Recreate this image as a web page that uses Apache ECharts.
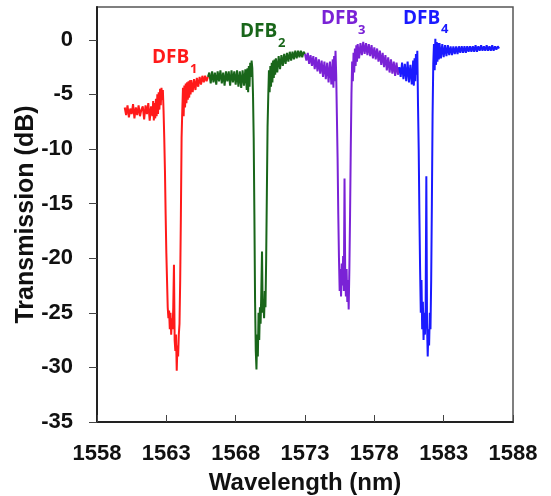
<!DOCTYPE html>
<html>
<head>
<meta charset="utf-8">
<script src="https://cdn.jsdelivr.net/npm/echarts@6/dist/echarts.min.js"></script>
<style>html,body{margin:0;padding:0;background:#fff}#c{width:551px;height:496px}</style>
</head>
<body>
<div id="c"></div>
<script>
// Tick labels
var xTicks = [1558, 1563, 1568, 1573, 1578, 1583, 1588];
var yTicks = [-35, -30, -25, -20, -15, -10, -5, 0];

// DFB1 (red) [wavelength nm, transmission dB]
var dfb1 = [
[1560.0,-6.2],[1560.1,-6.9],[1560.2,-6.0],[1560.3,-7.1],[1560.4,-6.3],[1560.5,-6.8],[1560.6,-5.9],[1560.7,-7.2],
[1560.8,-6.2],[1560.9,-6.9],[1561.0,-6.0],[1561.1,-7.0],[1561.2,-6.4],[1561.3,-6.1],[1561.4,-7.3],[1561.5,-6.0],
[1561.6,-6.8],[1561.7,-5.8],[1561.8,-7.4],[1561.9,-6.1],[1562.0,-7.0],[1562.05,-5.6],[1562.1,-7.4],[1562.15,-5.8],
[1562.2,-7.2],[1562.25,-5.4],[1562.3,-7.0],[1562.35,-5.0],[1562.4,-6.8],[1562.45,-4.8],[1562.5,-6.4],[1562.55,-4.5],
[1562.6,-6.0],[1562.65,-4.4],[1562.7,-5.5],[1562.75,-4.6],[1562.8,-6.5],[1562.85,-9.0],[1562.9,-12.0],[1562.95,-16.0],
[1563.0,-19.5],[1563.05,-22.0],[1563.1,-24.5],[1563.15,-25.5],[1563.2,-24.8],[1563.25,-26.5],[1563.3,-25.0],[1563.35,-27.0],
[1563.4,-25.5],[1563.45,-26.5],[1563.5,-24.5],[1563.55,-20.6],[1563.6,-27.5],[1563.65,-28.5],[1563.7,-27.0],[1563.75,-30.3],
[1563.8,-28.0],[1563.85,-29.0],[1563.9,-27.0],[1563.95,-26.0],[1564.0,-22.0],[1564.05,-16.0],[1564.1,-9.0],[1564.15,-6.5],
[1564.2,-4.4],[1564.25,-7.0],[1564.3,-4.2],[1564.35,-6.2],[1564.4,-4.0],[1564.45,-5.8],[1564.5,-3.9],[1564.55,-5.5],
[1564.6,-3.8],[1564.65,-5.3],[1564.7,-3.7],[1564.75,-5.0],[1564.8,-3.7],[1564.9,-4.8],[1565.0,-3.6],[1565.1,-4.6],
[1565.2,-3.5],[1565.3,-4.3],[1565.4,-3.4],[1565.5,-4.1],[1565.6,-3.3],[1565.7,-3.9],[1565.8,-3.3],[1565.9,-3.8],
[1566.0,-3.4]
];

// DFB2 (green)
var dfb2 = [
[1566.0,-3.4],[1566.1,-3.0],[1566.2,-4.0],[1566.3,-2.9],[1566.4,-3.9],[1566.5,-3.0],[1566.6,-4.1],[1566.7,-2.9],
[1566.8,-3.8],[1566.9,-2.8],[1567.0,-4.0],[1567.1,-3.0],[1567.2,-4.2],[1567.3,-2.9],[1567.4,-3.8],[1567.5,-2.9],
[1567.6,-4.2],[1567.7,-2.8],[1567.8,-3.9],[1567.9,-2.9],[1568.0,-4.1],[1568.1,-2.8],[1568.2,-4.3],[1568.3,-2.9],
[1568.4,-4.4],[1568.5,-2.8],[1568.6,-4.2],[1568.7,-2.7],[1568.8,-4.6],[1568.85,-2.6],[1568.9,-4.8],[1568.95,-2.4],
[1569.0,-4.3],[1569.05,-2.1],[1569.1,-3.4],[1569.15,-1.9],[1569.2,-2.6],[1569.25,-5.0],[1569.3,-9.0],[1569.35,-16.0],
[1569.4,-24.0],[1569.45,-28.5],[1569.5,-30.2],[1569.55,-27.0],[1569.6,-29.0],[1569.65,-25.0],[1569.7,-27.5],[1569.75,-24.5],
[1569.8,-26.0],[1569.85,-23.0],[1569.9,-19.4],[1569.95,-25.0],[1570.0,-24.0],[1570.05,-25.5],[1570.1,-23.0],[1570.15,-24.5],
[1570.2,-20.0],[1570.25,-14.0],[1570.3,-8.0],[1570.35,-5.2],[1570.4,-2.8],[1570.45,-4.8],[1570.5,-2.4],[1570.55,-4.3],
[1570.6,-2.1],[1570.65,-3.9],[1570.7,-1.9],[1570.75,-3.5],[1570.8,-1.8],[1570.85,-3.2],[1570.9,-1.7],[1571.0,-3.0],
[1571.1,-1.5],[1571.2,-2.7],[1571.3,-1.4],[1571.4,-2.4],[1571.5,-1.3],[1571.6,-2.2],[1571.7,-1.2],[1571.8,-2.0],
[1571.9,-1.1],[1572.0,-1.9],[1572.1,-1.1],[1572.2,-1.8],[1572.3,-1.0],[1572.4,-1.7],[1572.5,-1.0],[1572.6,-1.6],
[1572.7,-1.0],[1572.8,-1.6],[1572.9,-1.1],[1573.0,-1.3]
];

// DFB3 (purple)
var dfb3 = [
[1573.0,-1.3],[1573.1,-1.9],[1573.2,-1.2],[1573.3,-2.2],[1573.4,-1.4],[1573.5,-2.4],[1573.6,-1.5],[1573.7,-2.7],
[1573.8,-1.6],[1573.9,-2.9],[1574.0,-1.8],[1574.1,-3.1],[1574.2,-1.9],[1574.3,-3.4],[1574.4,-2.0],[1574.5,-3.6],
[1574.6,-2.1],[1574.7,-3.9],[1574.8,-2.0],[1574.9,-4.1],[1575.0,-1.8],[1575.05,-4.4],[1575.1,-1.5],[1575.15,-3.8],
[1575.2,-1.0],[1575.25,-3.2],[1575.3,-7.0],[1575.35,-10.8],[1575.4,-16.0],[1575.45,-20.0],[1575.5,-23.0],[1575.55,-21.0],
[1575.6,-23.5],[1575.65,-20.5],[1575.7,-22.5],[1575.75,-19.8],[1575.8,-23.0],[1575.85,-12.7],[1575.9,-21.5],[1575.95,-23.5],
[1576.0,-21.0],[1576.05,-24.0],[1576.1,-22.0],[1576.15,-24.7],[1576.2,-21.0],[1576.25,-16.0],[1576.3,-10.0],[1576.35,-5.0],
[1576.4,-2.0],[1576.45,-3.8],[1576.5,-1.2],[1576.55,-3.0],[1576.6,-0.8],[1576.65,-2.4],[1576.7,-0.5],[1576.75,-2.0],
[1576.8,-0.4],[1576.9,-1.7],[1577.0,-0.3],[1577.1,-1.4],[1577.2,-0.2],[1577.3,-1.3],[1577.4,-0.3],[1577.5,-1.4],
[1577.6,-0.4],[1577.7,-1.5],[1577.8,-0.5],[1577.9,-1.7],[1578.0,-0.7],[1578.1,-1.8],[1578.2,-0.8],[1578.3,-2.0],
[1578.4,-1.0],[1578.5,-2.3],[1578.6,-1.2],[1578.7,-2.5],[1578.8,-1.4],[1578.9,-2.8],[1579.0,-1.6],[1579.1,-3.0],
[1579.2,-1.8],[1579.3,-3.1],[1579.4,-2.0],[1579.5,-3.3],[1579.6,-2.1],[1579.7,-3.2],[1579.8,-2.5]
];

// DFB4 (blue)
var dfb4 = [
[1579.8,-2.5],[1579.9,-3.4],[1580.0,-2.1],[1580.1,-3.6],[1580.2,-2.2],[1580.3,-3.8],[1580.4,-2.0],[1580.5,-3.9],
[1580.6,-2.3],[1580.7,-4.1],[1580.8,-1.9],[1580.85,-4.2],[1580.9,-1.7],[1580.95,-3.8],[1581.0,-1.3],[1581.05,-3.2],
[1581.1,-1.0],[1581.15,-6.0],[1581.2,-10.0],[1581.25,-16.0],[1581.3,-21.0],[1581.35,-25.0],[1581.4,-22.0],[1581.45,-26.5],
[1581.5,-24.0],[1581.55,-27.5],[1581.6,-25.0],[1581.65,-27.0],[1581.7,-24.5],[1581.75,-12.5],[1581.8,-26.0],[1581.85,-29.0],
[1581.9,-26.5],[1581.95,-28.0],[1582.0,-25.0],[1582.05,-26.5],[1582.1,-22.0],[1582.15,-15.0],[1582.2,-7.0],[1582.25,-2.2],
[1582.3,-0.4],[1582.35,-2.8],[1582.4,0.1],[1582.45,-2.3],[1582.5,-0.2],[1582.55,-2.0],[1582.6,-0.3],[1582.65,-1.8],
[1582.7,-0.3],[1582.8,-1.7],[1582.9,-0.4],[1583.0,-1.6],[1583.1,-0.5],[1583.2,-1.5],[1583.3,-0.5],[1583.4,-1.4],
[1583.5,-0.6],[1583.6,-1.4],[1583.7,-0.6],[1583.8,-1.3],[1583.9,-0.6],[1584.0,-1.3],[1584.1,-0.6],[1584.2,-1.2],
[1584.3,-0.6],[1584.4,-1.2],[1584.5,-0.6],[1584.6,-1.2],[1584.7,-0.6],[1584.8,-1.1],[1584.9,-0.6],[1585.0,-1.1],
[1585.1,-0.6],[1585.2,-1.1],[1585.3,-0.5],[1585.4,-1.1],[1585.5,-0.6],[1585.6,-1.0],[1585.7,-0.5],[1585.8,-1.0],
[1585.9,-0.6],[1586.0,-1.0],[1586.1,-0.5],[1586.2,-1.0],[1586.3,-0.6],[1586.4,-1.0],[1586.5,-0.5],[1586.6,-1.0],
[1586.7,-0.6],[1586.8,-0.9],[1586.9,-0.6],[1587.0,-0.8]
];

var names = ['DFB', 'DFB', 'DFB', 'DFB'];
var subs = ['1', '2', '3', '4'];
var colors = ['#ff1a1a', '#19661a', '#7a22d6', '#1a1aff'];
var seriesData = [dfb1, dfb2, dfb3, dfb4];

var chart = echarts.init(document.getElementById('c'), null, {renderer: 'canvas'});
var labelFont = 'Liberation Sans, Arial, sans-serif';

var series = seriesData.map(function (d, i) {
  return {
    type: 'line', data: d, showSymbol: false, symbol: 'none',
    lineStyle: {color: colors[i], width: 2}, itemStyle: {color: colors[i]},
    animation: false, silent: true
  };
});

// label placement (pixels): [text left, text center y, sub left, sub center y]
var lblPos = [[152, 61, 190, 71], [240, 35, 278, 45], [321, 22, 358, 32], [403, 22, 441, 31]];
var graphics = [];
lblPos.forEach(function (p, i) {
  graphics.push({type: 'text', left: p[0], top: p[1] - 13, style: {text: names[i], fill: colors[i], font: 'bold 19px "Open Sans", sans-serif'}});
  graphics.push({type: 'text', left: p[2], top: p[3] - 8, style: {text: subs[i], fill: colors[i], font: 'bold 13px "Open Sans", sans-serif'}});
});

chart.setOption({
  animation: false,
  backgroundColor: '#fff',
  grid: {left: 97, right: 38, top: 7, bottom: 74, show: true, borderColor: '#555', borderWidth: 1.5,
    backgroundColor: 'transparent', outerBoundsMode: 'none', containLabel: false},
  xAxis: {
    type: 'value', min: 1558, max: 1588,
    name: 'Wavelength (nm)', nameLocation: 'middle', nameGap: 49, nameMoveOverlap: false,
    nameTextStyle: {fontFamily: labelFont, fontWeight: 'bold', fontSize: 24, color: '#111'},
    axisLine: {show: true, onZero: false, lineStyle: {color: '#222', width: 2}},
    axisTick: {show: true, inside: true, length: 7, customValues: xTicks, lineStyle: {color: '#444', width: 1}},
    axisLabel: {customValues: xTicks, margin: 21, fontFamily: labelFont, fontWeight: 'bold', fontSize: 22, color: '#111',
      formatter: function (v) { return String(v); }},
    splitLine: {show: false}
  },
  yAxis: {
    type: 'value', min: -35, max: 3,
    name: 'Transmission (dB)', nameLocation: 'middle', nameGap: 58, nameMoveOverlap: false,
    nameTextStyle: {fontFamily: labelFont, fontWeight: 'bold', fontSize: 25, color: '#111'},
    axisLine: {show: true, onZero: false, lineStyle: {color: '#222', width: 2}},
    axisTick: {show: true, inside: false, length: 8, customValues: yTicks, lineStyle: {color: '#444', width: 1}},
    axisLabel: {customValues: yTicks, margin: 24, fontFamily: labelFont, fontWeight: 'bold', fontSize: 22, color: '#111',
      formatter: function (v) { return String(v); }},
    splitLine: {show: false}
  },
  series: series,
  graphic: graphics
});
</script>
</body>
</html>
